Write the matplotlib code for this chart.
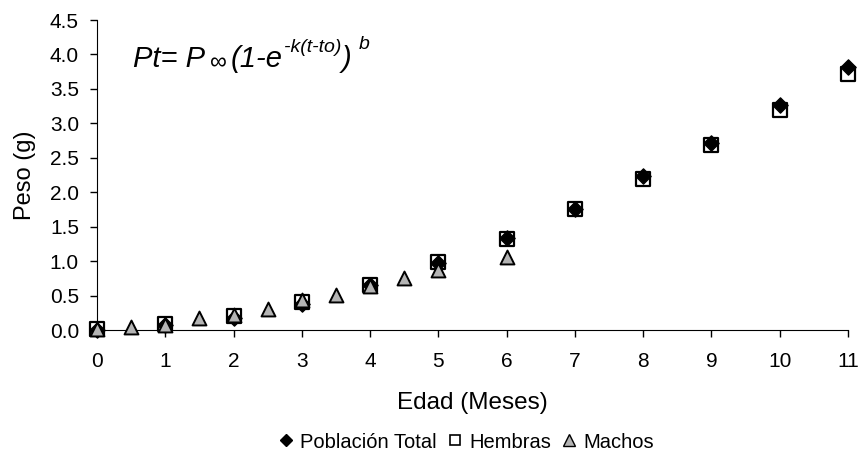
import matplotlib
matplotlib.use("Agg")
import matplotlib.pyplot as plt
from matplotlib.lines import Line2D

plt.rcParams["font.family"] = ["Liberation Sans", "DejaVu Sans"]

# peso medio por edad
edad_total = [0, 1, 2, 3, 4, 5, 6, 7, 8, 9, 10, 11]
peso_total = [0.00, 0.07, 0.18, 0.38, 0.65, 0.97, 1.33, 1.76, 2.23, 2.72, 3.27, 3.82]
edad_hembras = [0, 1, 2, 3, 4, 5, 6, 7, 8, 9, 10, 11]
peso_hembras = [0.02, 0.08, 0.21, 0.41, 0.66, 0.98, 1.32, 1.75, 2.19, 2.69, 3.19, 3.72]
edad_machos = [0, 0.5, 1, 1.5, 2, 2.5, 3, 3.5, 4, 4.5, 5, 6]
peso_machos = [0.02, 0.05, 0.07, 0.17, 0.22, 0.31, 0.43, 0.51, 0.64, 0.75, 0.87, 1.06]

GRIS = "#b4b4b4"

fig = plt.figure(figsize=(8.59, 4.62), dpi=100)
ax = fig.add_axes([97 / 859, 1 - 330 / 462, (848 - 97) / 859, (330 - 20) / 462])

ax.scatter(edad_hembras, peso_hembras, marker="s", s=110, facecolors="white",
           edgecolors="black", linewidths=1.6, zorder=3, clip_on=False)
ax.scatter(edad_total, peso_total, marker="D", s=60, color="black", zorder=4, clip_on=False)
ax.scatter(edad_machos, peso_machos, marker="^", s=100, facecolors=GRIS,
           edgecolors="black", linewidths=1.4, zorder=5, clip_on=False)

ax.set_xlim(0, 11)
ax.set_ylim(0, 4.5)
ax.set_xticks(range(0, 12))
ax.set_yticks([i * 0.5 for i in range(10)])
ax.set_yticklabels([f"{i * 0.5:.1f}" for i in range(10)])
for s in ("top", "right"):
    ax.spines[s].set_visible(False)
ax.tick_params(axis="both", labelsize=15, direction="out", length=5, width=1)
ax.tick_params(axis="x", pad=11)
ax.tick_params(axis="y", pad=8)
ax.set_xlabel("Edad (Meses)", fontsize=17.5, labelpad=15)
ax.set_ylabel("Peso (g)", fontsize=17, labelpad=10)

# ecuación del modelo de crecimiento, armada por piezas
base = 462 - 67
piezas = [
    ("Pt= P", 21, "italic", 0, 0),
    ("\u221e", 17, "normal", 5, -2),
    ("(1-e", 21, "italic", 4, 0),
    ("-k(t-to)", 14, "italic", 1, 15),
    (")", 21, "italic", 1, 0),
    ("b", 14, "italic", 7, 18),
]
prev = ax.text(133, base, "", transform=None, fontsize=1)
for txt, fs, st, dx, dy in piezas:
    prev = ax.annotate(txt, xy=(1, base + dy), xycoords=(prev, "figure pixels"),
                       xytext=(dx * 0.72, 0), textcoords="offset points",
                       fontsize=fs, fontstyle=st, ha="left", va="baseline")

handles = [
    Line2D([], [], ls="none", marker="D", ms=6.5, color="black"),
    Line2D([], [], ls="none", marker="s", ms=7, mfc="white", mec="black", mew=1.2),
    Line2D([], [], ls="none", marker="^", ms=8, mfc=GRIS, mec="black", mew=1.0),
]
fig.legend(handles, ["Población Total", "Hembras", "Machos"], loc="center",
           bbox_to_anchor=(466 / 859, 1 - 442 / 462), ncol=3, frameon=False, fontsize=14.5,
           handlelength=0.8, handletextpad=0.3, columnspacing=0.5, borderpad=0)

fig.savefig("out.png", dpi=100)
